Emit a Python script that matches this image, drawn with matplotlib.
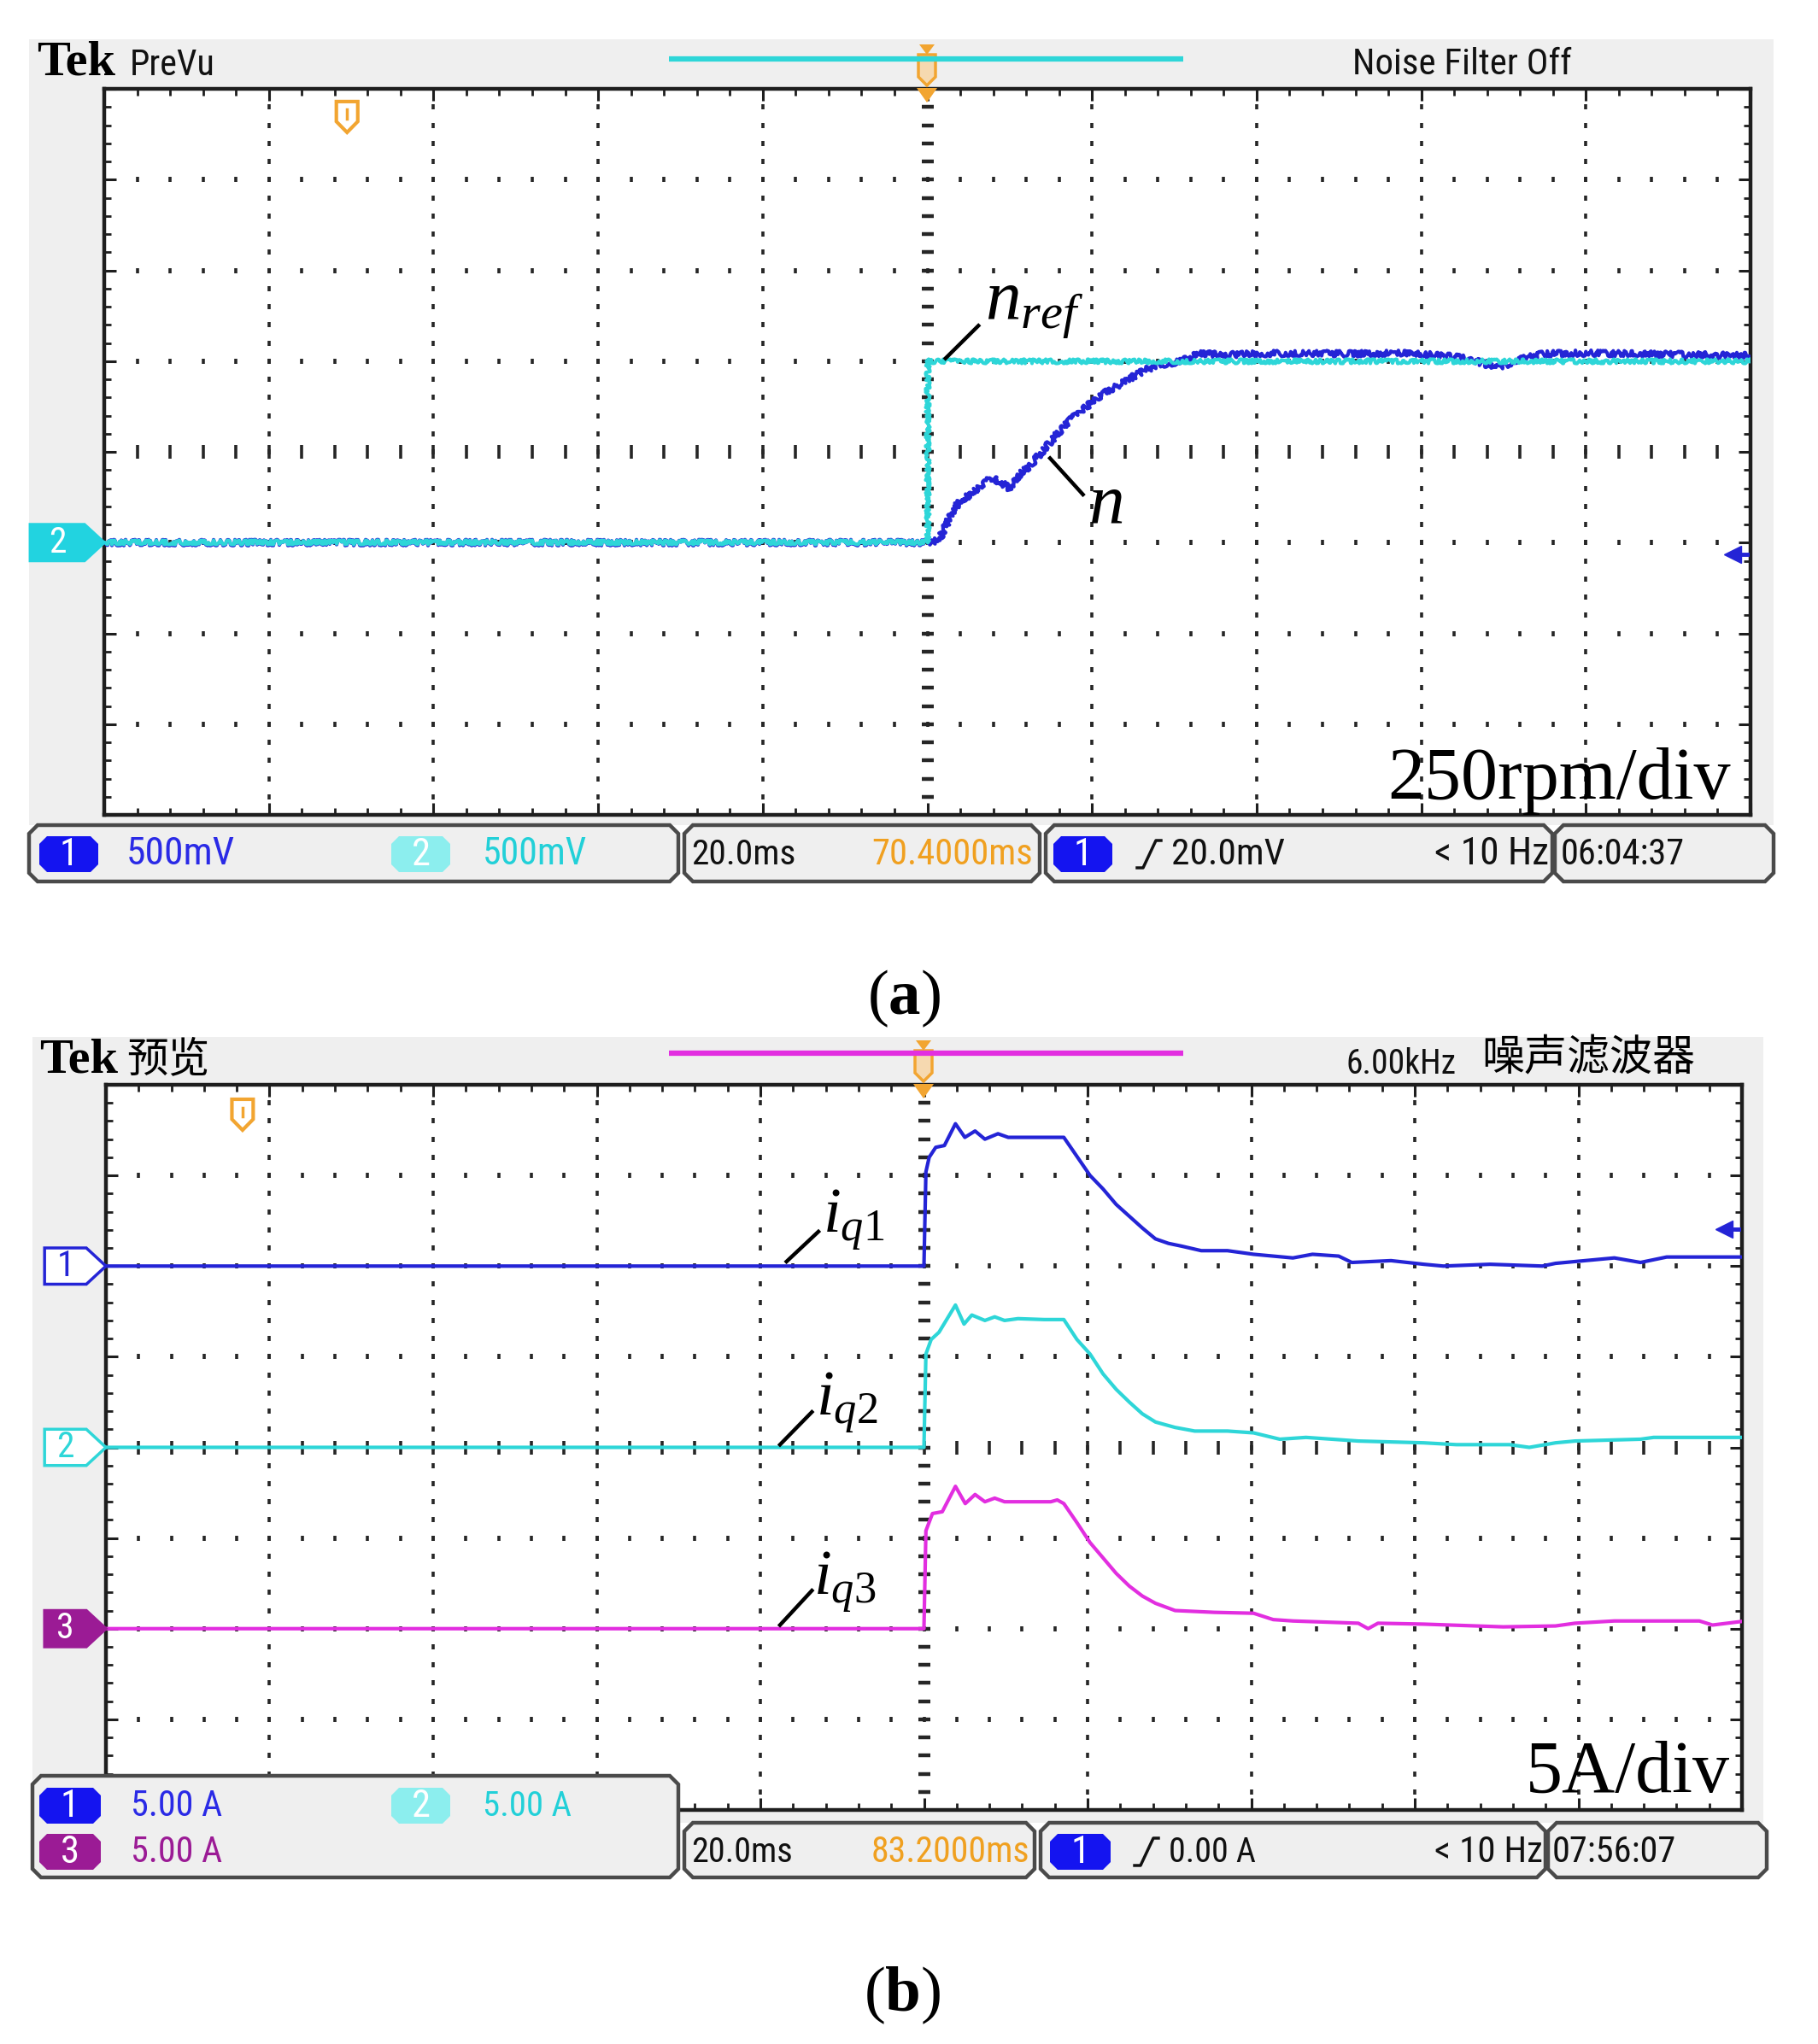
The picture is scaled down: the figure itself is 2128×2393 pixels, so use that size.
import os
import numpy as np
import matplotlib.pyplot as plt
from matplotlib import font_manager
from matplotlib.font_manager import FontProperties
from matplotlib.patches import Polygon, Rectangle

W, H = 2128, 2393

# ---- panel (a): speed step, 250 rpm/div, 20 ms/div (t = 0 at trigger)
t_nref = [-100, 0, 0, 100]
nref = [0, 0, 500, 500]
t_n = [-100, 0, 0.6, 1.5, 2.7, 3.9, 5.1, 6.6, 7.8, 9.0, 9.9, 11.1, 12.6, 14.1,
       15.6, 17.4, 19.2, 21.0, 22.8, 24.6, 26.4, 28.2, 30.6, 33.0, 36.6, 40.2,
       45, 51, 57, 63, 66, 67.7, 68.9, 70.1, 71.9, 74.9, 80, 85, 92, 100]
n = [0, 0, 0, 12, 68, 115, 130, 160, 178, 165, 150, 185, 215, 255,
     295, 338, 372, 405, 428, 452, 475, 490, 498, 520, 518, 520,
     522, 520, 522, 515, 505, 492, 480, 488, 505, 520, 522, 520, 518, 515]

# ---- panel (b): q-axis currents, 5 A/div
t_iq1 = [-100, 0, 0.24, 0.64, 1.44, 2.5, 3.85, 5.0, 6.25, 7.45, 9.05, 10.3, 17.1,
         18.7, 20.3, 21.9, 23.5, 25.1, 26.7, 28.3, 29.9, 31.5, 33.9, 37.1, 40.3,
         45.1, 47.5, 50.7, 52.3, 57.1, 61.1, 63.5, 69.2, 75.6, 77.2, 84.4, 87.6,
         90.8, 100]
iq1 = [0, 0, 5.2, 6.0, 6.55, 6.65, 7.85, 7.1, 7.45, 7.0, 7.3, 7.1, 7.1,
       6.05, 5.0, 4.25, 3.4, 2.75, 2.1, 1.5, 1.25, 1.1, 0.85, 0.85, 0.65,
       0.45, 0.65, 0.55, 0.2, 0.3, 0.1, 0.0, 0.1, 0.0, 0.15, 0.45, 0.2,
       0.5, 0.5]
t_iq2 = [-100, 0, 0.24, 0.88, 1.84, 3.85, 4.9, 5.85, 7.45, 8.65, 9.85, 11.5, 14.7,
         17.1, 18.7, 20.3, 21.9, 23.5, 25.1, 26.7, 28.3, 30.7, 33.1, 37.1, 40.3,
         43.5, 46.7, 53.1, 61.1, 65.1, 71.6, 74.0, 77.2, 79.6, 87.6, 89.2, 100]
iq2 = [0, 0, 5.15, 5.95, 6.35, 7.85, 6.8, 7.3, 7.0, 7.2, 7.0, 7.1, 7.05,
       7.05, 5.95, 5.15, 4.05, 3.2, 2.5, 1.85, 1.4, 1.1, 0.9, 0.9, 0.8,
       0.45, 0.55, 0.35, 0.25, 0.15, 0.15, 0.0, 0.25, 0.35, 0.45, 0.55, 0.55]
t_iq3 = [-100, 0, 0.24, 1.04, 2.24, 3.85, 5.05, 6.25, 7.45, 8.65, 9.85, 15.5, 16.3,
         17.1, 18.7, 20.3, 21.9, 23.5, 25.1, 26.7, 28.3, 30.7, 35.5, 40.3, 42.7,
         45.1, 53.1, 54.3, 55.5, 61.1, 70.8, 77.2, 79.6, 84.4, 94.8, 96.4, 100]
iq3 = [0, 0, 5.4, 6.35, 6.45, 7.85, 6.9, 7.4, 7.0, 7.2, 7.0, 7.0, 7.1,
       6.9, 5.85, 4.75, 3.9, 3.05, 2.35, 1.8, 1.4, 1.0, 0.9, 0.85, 0.5,
       0.425, 0.3, 0.0, 0.3, 0.25, 0.1, 0.15, 0.3, 0.425, 0.425, 0.2, 0.4]

BLUE = '#2424d6'
CYAN = '#2ed6d8'
MAG = '#e22ee0'
PURPLE = '#9b1b95'
ORANGE = '#f2a531'
GRAY = '#efefef'
DOT = '#262626'

plt.rcParams['mathtext.fontset'] = 'custom'
plt.rcParams['mathtext.rm'] = 'Liberation Serif'
plt.rcParams['mathtext.it'] = 'Liberation Serif:italic'
plt.rcParams['mathtext.bf'] = 'Liberation Serif:bold'

SERIF = 'Liberation Serif'
CJK = ['Noto Sans CJK SC', 'DejaVu Sans']


def pick_condensed():
    files = [f.fname for f in font_manager.fontManager.ttflist]
    prefs = ['LiberationSansNarrow-Regular', 'NotoSans-ExtraCondensed.', 'RobotoCondensed-Regular',
             'NotoSans-Condensed.', 'OpenSans_Condensed-Regular', 'OpenSans-CondensedRegular',
             'DejaVuSansCondensed.']
    for p in prefs:
        for fn in files:
            if p in os.path.basename(fn):
                return fn
    for fn in files:
        b = os.path.basename(fn)
        if ('Condensed' in b or 'Narrow' in b) and not any(w in b for w in ('Bold', 'Italic', 'Light', 'Thin', 'Black', 'Medium', 'Semi')):
            return fn
    return None


COND_FILE = pick_condensed()


def cond(size):
    fp = FontProperties(fname=COND_FILE) if COND_FILE else FontProperties(family='Liberation Sans')
    fp.set_size(size)
    return fp


fig = plt.figure(figsize=(W / 100, H / 100), dpi=100)
renderer = fig.canvas.get_renderer()


def fit(t, width, max_size):
    # shrink/grow the font so the string spans the width it has in the screenshot
    w = t.get_window_extent(renderer).width
    t.set_fontsize(min(max_size, t.get_fontsize() * width / w))
    return t


def px_axes(zorder):
    a = fig.add_axes([0, 0, 1, 1], zorder=zorder)
    a.set_xlim(0, W)
    a.set_ylim(H, 0)
    a.axis('off')
    return a


def chamfer(x0, y0, x1, y1, c):
    return [(x0 + c, y0), (x1 - c, y0), (x1, y0 + c), (x1, y1 - c),
            (x1 - c, y1), (x0 + c, y1), (x0, y1 - c), (x0, y0 + c)]


def screen(box):
    x0, y0, x1, y1 = box
    ax = fig.add_axes([x0 / W, 1 - y1 / H, (x1 - x0) / W, (y1 - y0) / H], zorder=1)
    ax.set_xlim(-100, 100)
    ax.set_ylim(-4, 4)
    ax.set_facecolor('white')
    ax.set_xticks(np.arange(-100, 101, 20))
    ax.set_xticks(np.arange(-100, 101, 4), minor=True)
    ax.set_yticks(np.arange(-4, 5, 1))
    ax.set_yticks(np.arange(-4, 4.01, 0.2), minor=True)
    ax.tick_params(which='both', direction='in', top=True, right=True,
                   labelbottom=False, labelleft=False, color='#1e1e1e')
    ax.tick_params(which='major', length=10, width=2.2)
    ax.tick_params(which='minor', length=6, width=2)
    for s in ax.spines.values():
        s.set_linewidth(3.2)
        s.set_color('#1e1e1e')
    # dotted graticule
    my = np.arange(-3.8, 3.81, 0.2)
    mx = np.arange(-96, 97, 4)
    for xv in range(-80, 81, 20):
        if xv != 0:
            ax.plot(np.full(len(my), xv), my, ls='none', marker='|', ms=4.5,
                    mew=2.6, color=DOT, zorder=1)
    for yv in range(-3, 4):
        if yv != 0:
            ax.plot(mx, np.full(len(mx), yv), ls='none', marker='|', ms=4.5,
                    mew=2.6, color=DOT, zorder=1)
    ax.plot(mx, np.zeros(len(mx)), ls='none', marker='|', ms=11, mew=2.6,
            color=DOT, zorder=1)
    ax.plot(np.zeros(len(my)), my, ls='none', marker='_', ms=10, mew=3.2,
            color=DOT, zorder=1)
    return ax


def t_marker(ax, x, y):
    pts = [(x - 1.3, y + 0.17), (x + 1.3, y + 0.17), (x + 1.3, y - 0.05),
           (x, y - 0.17), (x - 1.3, y - 0.05)]
    ax.add_patch(Polygon(pts, closed=True, fc='white', ec=ORANGE, lw=3, zorder=4))
    ax.plot([x, x], [y + 0.08, y - 0.02], color=ORANGE, lw=2.5, zorder=4)


def ch_marker(ax, y, label, fc, ec, tc, x0, x1):
    pts = [(x0, y + 0.2), (x1 - 2.4, y + 0.2), (x1, y), (x1 - 2.4, y - 0.2), (x0, y - 0.2)]
    ax.add_patch(Polygon(pts, closed=True, fc=fc, ec=ec, lw=2.5, clip_on=False, zorder=5))
    ax.text((x0 + x1 - 2.4) / 2, y, label, color=tc, ha='center', va='center',
            fontproperties=cond(30), clip_on=False, zorder=6)


def trig_arrow(ax, y):
    ax.plot([97.8, 99.6], [y, y], color=BLUE, lw=3.5, zorder=5)
    ax.plot([97.8], [y], marker='<', ms=15, color=BLUE, zorder=5)


bg = px_axes(0)
bg.add_patch(Rectangle((34, 46), 2042, 920, color=GRAY, lw=0))
bg.add_patch(Rectangle((38, 1214), 2026, 920, color=GRAY, lw=0))

# ---------------- (a)
axa = screen((122, 104, 2049, 954))
ln = axa.plot(t_n, np.array(n) / 250 - 1, color=BLUE, lw=3, zorder=3)[0]
lr = axa.plot(t_nref, np.array(nref) / 250 - 1, color=CYAN, lw=3, zorder=3.2)[0]
lr.set_sketch_params(scale=2.5, length=5, randomness=14)
ln.set_sketch_params(scale=3.5, length=5, randomness=14)
axa.plot([2.2, 6.2], [1.03, 1.39], color='black', lw=3.2, zorder=4)
axa.text(7.0, 1.47, r'$n_{ref}$', size=60, zorder=4)
axa.plot([14.9, 18.9], [-0.07, -0.47], color='black', lw=3.2, zorder=4)
axa.text(19.6, -0.78, r'$n$', size=60, zorder=4)
axa.text(97.6, -3.82, '250rpm/div', family=SERIF, size=62, ha='right', zorder=4)
t_marker(axa, -70.5, 3.69)
ch_marker(axa, -1, '2', '#22d3e0', '#22d3e0', 'white', -109, -100)
trig_arrow(axa, -1.13)

# ---------------- (b)
axb = screen((124, 1270, 2039, 2119))
axb.plot(t_iq1, np.array(iq1) / 5 + 2, color=BLUE, lw=3, zorder=3)
axb.plot(t_iq2, np.array(iq2) / 5, color=CYAN, lw=3, zorder=3)
axb.plot(t_iq3, np.array(iq3) / 5 - 2, color=MAG, lw=3, zorder=3)
for (lx, ly, tx, ty, lab) in [([-16.8, -12.9], [2.05, 2.38], -12.4, 2.38, r'$i_{q\mathrm{1}}$'),
                              ([-17.6, -13.7], [0.03, 0.39], -13.2, 0.36, r'$i_{q\mathrm{2}}$'),
                              ([-17.6, -13.7], [-1.96, -1.58], -13.5, -1.61, r'$i_{q\mathrm{3}}$')]:
    axb.plot(lx, ly, color='black', lw=3.2, zorder=4)
    axb.text(tx, ty, lab, size=54, zorder=4)
axb.text(98.5, -3.8, '5A/div', family=SERIF, size=62, ha='right', zorder=4)
t_marker(axb, -83.3, 3.67)
ch_marker(axb, 2, '1', 'white', BLUE, BLUE, -107.5, -100)
ch_marker(axb, 0, '2', 'white', CYAN, CYAN, -107.5, -100)
ch_marker(axb, -2, '3', PURPLE, PURPLE, 'white', -107.5, -100)
trig_arrow(axb, 2.41)

# ---------------- headers, status bars (pixel coordinates)
fg = px_axes(3)


def header(y_base, tek_x, rec_y, rec_color, trig_x, scr_top):
    fg.text(tek_x, y_base, 'Tek', family=SERIF, weight='bold', size=42, va='baseline')
    fg.plot([783, 1385], [rec_y, rec_y], color=rec_color, lw=4.5, solid_capstyle='butt')
    fg.add_patch(Polygon([(trig_x - 9, scr_top - 52), (trig_x + 9, scr_top - 52), (trig_x, scr_top - 40)],
                         closed=True, color=ORANGE, lw=0))
    fg.add_patch(Polygon([(trig_x - 10, scr_top - 40), (trig_x + 10, scr_top - 40), (trig_x + 10, scr_top - 14),
                          (trig_x, scr_top - 4), (trig_x - 10, scr_top - 14)],
                         closed=True, fc='#f6d9b0', ec=ORANGE, lw=2.5))
    fg.add_patch(Polygon([(trig_x - 12, scr_top - 1), (trig_x + 12, scr_top - 1), (trig_x, scr_top + 16)],
                         closed=True, color=ORANGE, lw=0))


def stext(x, yc, s, width, color='#111111', va='center', max_size=36):
    t = fg.text(x, yc, s, color=color, ha='left', va=va, fontproperties=cond(30))
    return fit(t, width, max_size)


header(88, 43, 69, CYAN, 1085, 104)
stext(152, 88, 'PreVu', 100, va='baseline')
stext(1583, 87, 'Noise Filter Off', 256, va='baseline')

header(1256, 46, 1233, MAG, 1081, 1270)
fg.text(148, 1240, '预览', family=CJK, size=35, va='center')
stext(1576, 1257, '6.00kHz', 129, va='baseline')
fg.text(1734, 1239, '噪声滤波器', family=CJK, size=36, va='center')


def box(x0, y0, x1, y1):
    fg.add_patch(Polygon(chamfer(x0, y0, x1, y1, 10), closed=True, fc=GRAY, ec='#4a4a4a', lw=3.2))


def badge(x0, x1, yc, label, fc):
    fg.add_patch(Polygon(chamfer(x0, yc - 21, x1, yc + 21, 9), closed=True, fc=fc, lw=0))
    fg.text((x0 + x1) / 2, yc + 1, label, color='white', ha='center', va='center',
            fontproperties=cond(32))


def slope(x, yc):
    fg.plot([x, x + 7, x + 22, x + 28], [yc + 16, yc + 16, yc - 16, yc - 16], color='#111111', lw=2.5)


# (a) status bar
ya = 1000
for bx in [(34, 966, 794, 1032), (801, 966, 1217, 1032), (1224, 966, 1817, 1032), (1820, 966, 2076, 1032)]:
    box(*bx)
badge(46, 115, ya, '1', '#1414f0')
stext(148, ya, '500mV', 127, '#2a2ae6')
badge(458, 527, ya, '2', '#8ceeee')
stext(565, ya, '500mV', 122, '#22d0d8')
stext(809, ya, '20.0ms', 122)
stext(1020, ya, '70.4000ms', 189, '#f0a020')
badge(1233, 1302, ya, '1', '#1414f0')
slope(1331, ya)
stext(1371, ya, '20.0mV', 133)
stext(1679, ya, '< 10 Hz', 134)
stext(1827, ya, '06:04:37', 145)

# (b) status bar
y1, y2 = 2114, 2168
box(38, 2079, 794, 2198)
for bx in [(801, 2134, 1211, 2198), (1218, 2134, 1809, 2198), (1812, 2134, 2068, 2198)]:
    box(*bx)
badge(46, 118, y1, '1', '#1414f0')
stext(153, y1, '5.00 A', 107, '#2a2ae6')
badge(458, 527, y1, '2', '#8ceeee')
stext(565, y1, '5.00 A', 104, '#22d0d8')
badge(46, 118, y2, '3', PURPLE)
stext(153, y2, '5.00 A', 107, PURPLE)
stext(809, y2, '20.0ms', 119)
stext(1020, y2, '83.2000ms', 186, '#f0a020')
badge(1229, 1300, y2, '1', '#1414f0')
slope(1328, y2)
stext(1368, y2, '0.00 A', 102)
stext(1679, y2, '< 10 Hz', 127)
stext(1817, y2, '07:56:07', 145)

# captions
fg.text(1058, 1187, r'($\mathbf{a}$)', family=SERIF, size=54, ha='center', va='baseline')
fg.text(1056, 2354, r'($\mathbf{b}$)', family=SERIF, size=54, ha='center', va='baseline')

fig.savefig('out.png', dpi=100)
